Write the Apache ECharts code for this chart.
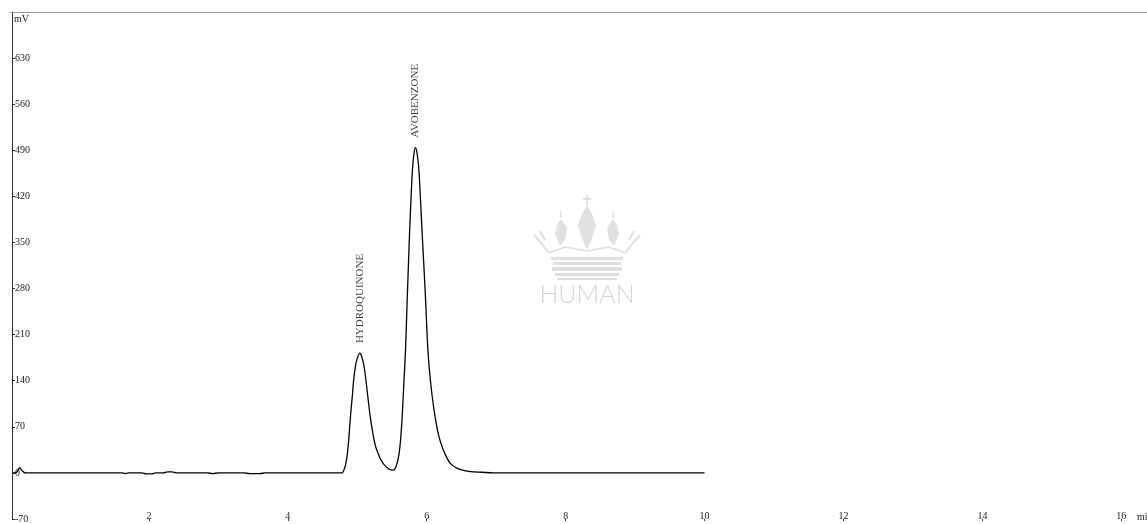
<!DOCTYPE html>
<html>
<head>
<meta charset="utf-8">
<script src="https://cdn.jsdelivr.net/npm/echarts@6/dist/echarts.min.js"></script>
<style>
html,body{margin:0;padding:0;background:#fff;}
#chart{width:1147px;height:524px;}
</style>
</head>
<body>
<div id="chart"></div>
<script>
// Retention time (min)
var times = [0.036, 0.09, 0.12, 0.14, 0.17, 0.22, 0.3, 1.0, 1.6, 1.66, 1.72, 1.9, 1.96, 2.04, 2.1, 2.2, 2.27, 2.33, 2.4, 2.84, 2.92, 3.0, 3.37, 3.45, 3.6, 3.67, 4.5,
  4.78, 4.806, 4.831, 4.855, 4.878, 4.903, 4.927, 4.95, 4.975, 4.999, 5.037, 5.06, 5.094, 5.12, 5.143, 5.167, 5.191, 5.215, 5.238, 5.27, 5.31, 5.345, 5.382, 5.454, 5.518,
  5.56, 5.598, 5.625, 5.647, 5.67, 5.695, 5.719, 5.752, 5.775, 5.791, 5.815, 5.839, 5.863, 5.887, 5.91, 5.935, 5.96, 5.983, 6.016, 6.055, 6.102, 6.151, 6.198,
  6.271, 6.343, 6.439, 6.559, 6.631, 6.8, 6.96, 8.0, 10.0];
// Detector signal (mV)
var signal = [0, 0.5, 5, 8, 4, 0, 0, 0, 0, -1, 0, 0, -1.5, -1.5, 0, 0, 1.5, 1.5, 0, 0, -1, 0, 0, -1, -1, 0, 0,
  0, 4, 12, 27, 52, 87, 115, 143, 163, 174, 182, 178, 164, 145, 124, 102, 82, 66, 52, 38, 27, 19, 13, 6, 4.2,
  10, 27, 52, 87, 135, 188, 264, 362, 420, 455, 484, 494, 484, 460, 415, 362, 312, 264, 188, 138, 97.5, 67, 47,
  27, 14, 7, 3, 2, 1, 0, 0, 0];
// Peak annotations
var peakNames = ['HYDROQUINONE', 'AVOBENZONE'];
var peakTimes = [5.037, 5.839];
var peakHeights = [182, 494];
// Axis settings
var xTickInterval = 2;
var yTickInterval = 70;
var yMin = -70, yMax = 700;
var xMin = 0, xMax = 16.37;

var lineData = times.map(function (t, i) { return [t, signal[i]]; });
var peakData = peakNames.map(function (n, i) { return { name: n, value: [peakTimes[i], peakHeights[i]] }; });

var serif = 'Liberation Serif';
var chart = echarts.init(document.getElementById('chart'), null, { renderer: 'canvas' });

var wm = '#e0e0e0';
var crown = [
  { type: 'rect', shape: { x: 586, y: 195, width: 2, height: 10 }, style: { fill: wm } },
  { type: 'rect', shape: { x: 583, y: 198, width: 8, height: 2 }, style: { fill: wm } },
  { type: 'polygon', shape: { points: [[587, 205], [593, 216], [596, 226], [592, 238], [587, 250], [582, 238], [578, 226], [581, 216]] }, style: { fill: wm } },
  { type: 'polygon', shape: { points: [[561, 219], [567, 228], [565, 240], [560, 246], [555, 234], [557, 225]] }, style: { fill: wm } },
  { type: 'polygon', shape: { points: [[613, 219], [607, 228], [609, 240], [614, 246], [619, 234], [617, 225]] }, style: { fill: wm } },
  { type: 'rect', shape: { x: 560, y: 211, width: 1.5, height: 7 }, style: { fill: wm } },
  { type: 'rect', shape: { x: 612.5, y: 211, width: 1.5, height: 7 }, style: { fill: wm } },
  { type: 'polyline', shape: { points: [[534, 235], [541, 243], [549, 253]] }, style: { stroke: wm, lineWidth: 2, fill: null } },
  { type: 'polyline', shape: { points: [[540, 231], [545, 240]] }, style: { stroke: wm, lineWidth: 2, fill: null } },
  { type: 'polyline', shape: { points: [[640, 235], [633, 243], [625, 253]] }, style: { stroke: wm, lineWidth: 2, fill: null } },
  { type: 'polyline', shape: { points: [[634, 231], [629, 240]] }, style: { stroke: wm, lineWidth: 2, fill: null } },
  { type: 'polyline', shape: { points: [[549, 253], [565, 247], [587, 251], [609, 247], [625, 253]] }, style: { stroke: wm, lineWidth: 1.5, fill: null } },
  { type: 'rect', shape: { x: 551, y: 257, width: 72, height: 3 }, style: { fill: wm } },
  { type: 'rect', shape: { x: 553, y: 262, width: 68, height: 3 }, style: { fill: wm } },
  { type: 'rect', shape: { x: 552, y: 267, width: 70, height: 4 }, style: { fill: wm } },
  { type: 'rect', shape: { x: 555, y: 273, width: 64, height: 3 }, style: { fill: wm } },
  { type: 'rect', shape: { x: 557, y: 278, width: 60, height: 2 }, style: { fill: wm } },
  { type: 'text', x: 587, y: 295, style: { text: 'HUMAN', fill: '#d6d6d6', fontSize: 25, fontFamily: 'Lato', fontWeight: 300, align: 'center', verticalAlign: 'middle' } }
];
crown.forEach(function (c) { c.silent = true; c.z = -10; });

var option = {
  animation: false,
  backgroundColor: '#fff',
  grid: { left: 10, right: 0, top: 12, bottom: 3.2, containLabel: false },
  xAxis: [{
    type: 'value', position: 'bottom', min: xMin, max: xMax, interval: xTickInterval,
    axisLine: { show: false, onZero: false },
    axisTick: { show: true, inside: false, length: 2, lineStyle: { color: '#333', width: 1 } },
    axisLabel: { inside: true, margin: -2, showMinLabel: false, showMaxLabel: false, color: '#222', fontSize: 10, fontFamily: serif },
    splitLine: { show: false }
  }, {
    type: 'value', position: 'top', min: xMin, max: xMax, interval: xTickInterval,
    axisLine: { show: true, onZero: false, lineStyle: { color: '#999', width: 1.2 } },
    axisTick: { show: false }, axisLabel: { show: false }, splitLine: { show: false }
  }],
  yAxis: {
    type: 'value', min: yMin, max: yMax, interval: yTickInterval, offset: -2,
    axisLine: { show: true, onZero: false, lineStyle: { color: '#333', width: 1 } },
    axisTick: { show: true, inside: true, length: 3, lineStyle: { color: '#333' } },
    axisLabel: { inside: true, margin: 3, showMaxLabel: false, color: '#222', fontSize: 10, fontFamily: serif },
    splitLine: { show: false }
  },
  graphic: crown.concat([
    { type: 'text', x: 14, y: 14, style: { text: 'mV', fill: '#222', fontSize: 10, fontFamily: serif, verticalAlign: 'top' } },
    { type: 'text', x: 1137, y: 522, style: { text: 'min', fill: '#222', fontSize: 10, fontFamily: serif, verticalAlign: 'bottom' } }
  ]),
  series: [{
    type: 'line', data: lineData, showSymbol: false, symbol: 'none', smooth: 0.3,
    lineStyle: { color: '#000', width: 1.3 }, z: 5
  }, {
    type: 'scatter', data: peakData, symbolSize: 0, z: 6,
    label: {
      show: true, formatter: '{b}', position: 'top', distance: 10, rotate: 90,
      align: 'left', verticalAlign: 'middle', color: '#111', fontSize: 11, fontFamily: serif
    }
  }]
};
chart.setOption(option);
</script>
</body>
</html>
